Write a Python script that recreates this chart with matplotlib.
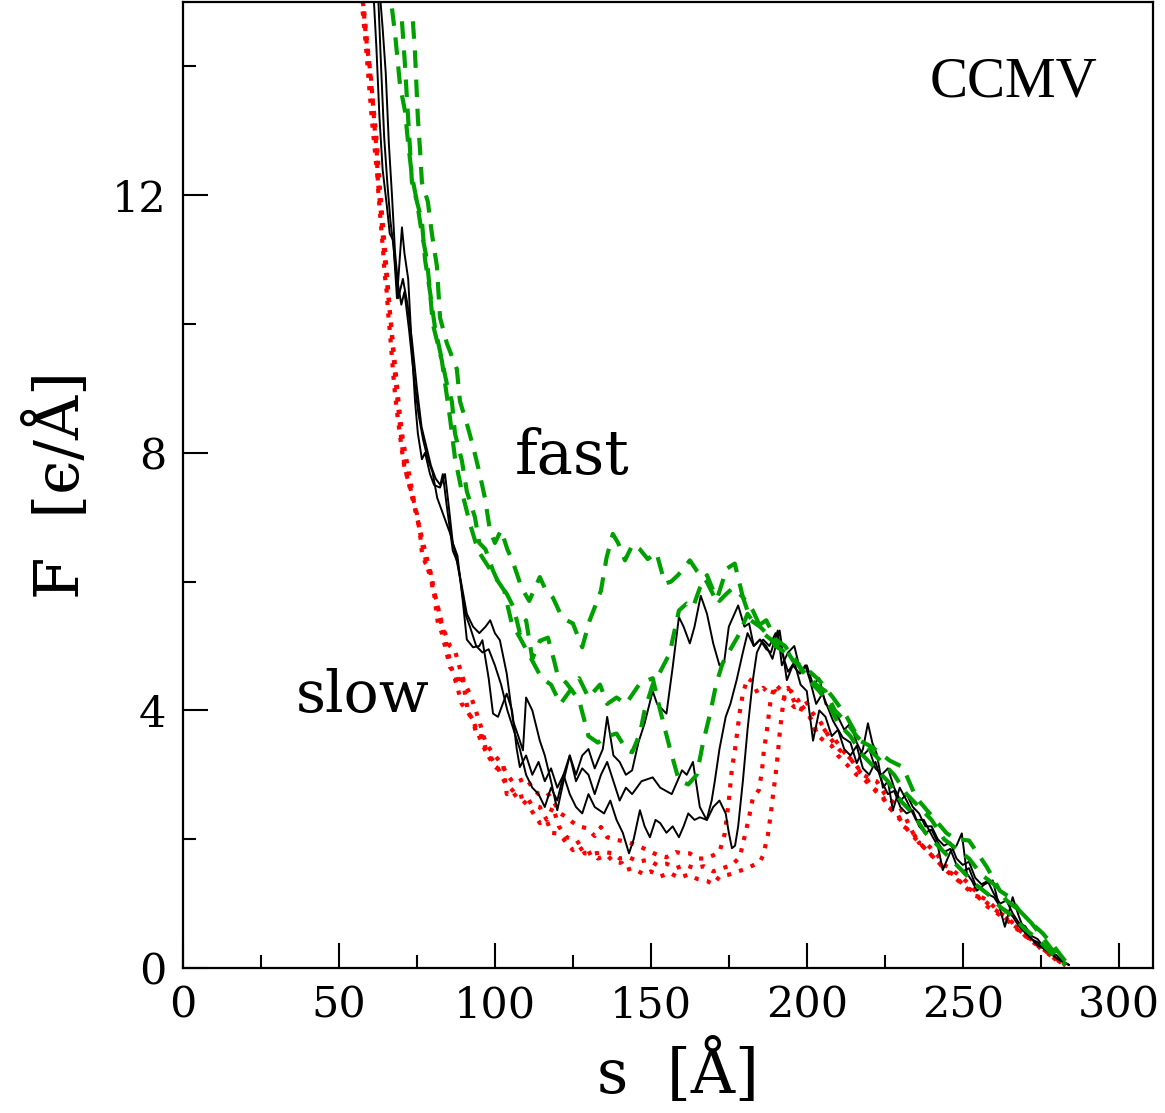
"""CCMV force vs. extension, slow / fast pulling"""
import matplotlib
matplotlib.use('Agg')
import matplotlib.pyplot as plt
from matplotlib.ticker import MultipleLocator

RED = '#ff0000'
GREEN = '#00a000'
SERIF = ['DejaVu Serif', 'DejaVu Sans']

# ---------------- data ----------------
# slow pulling: red dotted
s_red_1 = [57.7, 58.3, 59, 59.6, 60.3, 61, 61.5, 62.1, 62.6, 63.2, 63.7, 64.2, 64.6, 65.3,
           65.8, 66.4, 66.9, 67.4, 68, 68.7, 69.5, 70.2, 71, 72.2, 73.4, 75, 76, 76.6, 77.6,
           79.2, 80.1, 81.4, 82.5, 84, 85.6, 87.2, 88.5, 90.4, 92, 93.5, 95.2, 97, 98.4, 100,
           102, 104, 106, 108, 110, 112, 114, 116.6, 118.6, 121, 123, 125, 127, 129.5, 132,
           134, 136, 138, 140, 143, 145.8, 148, 150, 152.5, 155, 158, 160, 162.5, 165, 167.5,
           170, 172, 173.7, 175, 176, 177, 178.5, 179.5, 181, 182.5, 184.3, 186, 188, 190,
           192, 194, 196, 198, 201, 203, 205, 207, 210.6, 213, 215, 218, 220, 222.4, 225,
           227, 229.8, 232, 234, 236, 238, 240, 242, 244, 246, 248, 250, 252, 254, 256, 258,
           260, 262, 264, 266, 268, 270, 272.4, 275, 278, 281, 283]
f_red_1 = [15.0, 14.65, 14.3, 14.1, 13.8, 13.35, 13.0, 12.7, 12.06, 11.7, 11.4, 11.1, 10.8,
           10.5, 10.15, 9.84, 9.53, 9.22, 8.9, 8.6, 8.3, 8.03, 7.77, 7.57, 7.36, 7.05, 6.74,
           6.45, 6.3, 6.2, 5.86, 5.7, 5.4, 5.2, 5.0, 4.93, 4.7, 4.4, 4.26, 4.05, 3.8, 3.5, 3.4,
           3.3, 3.18, 3.0, 2.87, 2.91, 2.95, 2.8, 2.7, 2.73, 2.6, 2.4, 2.34, 2.26, 2.2, 2.17,
           2.05, 2.19, 2.03, 2.0, 1.98, 1.95, 1.9, 1.85, 1.8, 1.75, 1.72, 1.8, 1.78, 1.78, 1.7,
           1.7, 1.75, 1.8, 2.09, 2.6, 3.1, 3.4, 3.97, 4.26, 4.5, 4.45, 4.26, 4.35, 4.26, 4.3,
           4.2, 4.15, 4.05, 4.1, 3.9, 3.7, 3.75, 3.6, 3.38, 3.3, 3.2, 3.0, 2.95, 2.9, 2.7, 2.6,
           2.5, 2.3, 2.1, 1.94, 1.95, 1.85, 1.75, 1.6, 1.55, 1.47, 1.4, 1.3, 1.2, 1.1, 1.05,
           0.95, 0.85, 0.8, 0.7, 0.6, 0.5, 0.43, 0.3, 0.2, 0.1, 0.03]

s_red_2 = [57, 58, 59, 60, 61, 62, 63, 64, 65, 66, 67, 68, 69, 70, 71, 72.5, 74, 75.5, 77,
           78.5, 80, 81.7, 83.3, 84.6, 86, 87.8, 89.4, 91, 93, 95.8, 97.4, 99, 101, 103, 105.8,
           107.5, 110, 111.8, 114.4, 116.6, 118.6, 120.5, 123, 126.3, 128.8, 132, 135.3, 137.8,
           140, 143, 146, 149, 152, 155, 158, 161, 164, 167, 170, 173, 176, 178.5, 180, 181.4,
           182.7, 184.6, 185.6, 186.2, 187.2, 188.5, 190, 192, 194, 196.8, 199, 201, 203,
           206, 208, 210, 213, 216, 218, 221, 224, 226, 229, 231, 234, 236, 239, 242, 245,
           248, 251, 254, 256, 259, 262, 265, 268, 271, 274, 277, 280, 283]
f_red_2 = [15.3, 14.9, 14.4, 13.9, 13.4, 12.9, 12.2, 11.6, 11.0, 10.4, 9.8, 9.2, 8.7, 8.2,
           7.8, 7.5, 7.2, 6.9, 6.5, 6.2, 5.95, 5.6, 5.3, 5.0, 4.67, 4.39, 4.1, 4.0, 3.84, 3.49,
           3.33, 3.25, 3.1, 2.9, 2.75, 2.65, 2.68, 2.53, 2.5, 2.3, 2.5, 2.2, 2.03, 1.98, 1.78,
           1.78, 1.8, 1.78, 1.7, 1.72, 1.65, 1.68, 1.6, 1.62, 1.55, 1.6, 1.55, 1.58, 1.5, 1.55,
           1.6, 1.72, 2.03, 2.32, 2.64, 2.76, 3.05, 3.36, 3.69, 4.2, 4.4, 4.3, 4.35, 4.05, 4.0,
           3.9, 3.64, 3.5, 3.45, 3.3, 3.15, 3.0, 2.95, 2.8, 2.7, 2.5, 2.4, 2.2, 2.1, 1.95,
           1.8, 1.65, 1.5, 1.38, 1.25, 1.12, 1.1, 0.95, 0.85, 0.72, 0.6, 0.45, 0.35, 0.25,
           0.12, 0.04]

s_red_3 = [56.5, 57.5, 58.5, 59.5, 60.5, 61.5, 62.5, 63.5, 64.5, 65.5, 66.5, 67.5, 68.5, 69.5,
           70.5, 72, 73.5, 75, 76.5, 78, 80, 81.7, 83, 85.6, 87, 88.1, 89.4, 91.3, 93, 94.2, 96,
           97.4, 99, 100.6, 102.6, 103.8, 105.5, 107, 109, 111, 114.4, 116.6, 118, 120, 122,
           125, 127, 129, 131, 133, 136, 138, 140.7, 142, 144, 146, 148, 150, 153, 156, 159,
           162, 165, 168, 170, 172, 175, 178, 181, 183, 185, 186, 187.5, 188.4, 189.2, 190,
           190.7, 191.3, 192, 193, 195, 197, 199, 202, 204, 207, 209, 212, 214, 217, 219, 222,
           225, 228, 230, 233, 236, 239, 241, 244, 247, 250, 253, 256, 258, 261, 264, 267,
           270, 273, 276, 279, 282]
f_red_3 = [15.3, 14.9, 14.4, 13.8, 13.2, 12.7, 12.2, 11.7, 11.1, 10.6, 10.1, 9.6, 9.1, 8.6,
           8.2, 7.8, 7.4, 7.0, 6.7, 6.4, 6.0, 5.36, 5.2, 4.67, 4.6, 4.39, 4.57, 4.0, 3.84, 3.6,
           3.6, 3.33, 3.2, 3.1, 3.18, 2.7, 2.75, 2.65, 2.6, 2.5, 2.25, 2.3, 2.1, 2.09, 2.0, 1.83,
           1.9, 1.75, 1.8, 1.7, 1.75, 1.65, 1.63, 1.52, 1.55, 1.5, 1.45, 1.5, 1.42, 1.48, 1.4,
           1.45, 1.38, 1.35, 1.3, 1.42, 1.45, 1.5, 1.55, 1.6, 1.65, 1.75, 2.06, 2.37, 2.7, 3.0,
           3.32, 3.64, 3.95, 4.3, 4.3, 4.15, 4.2, 3.95, 3.85, 3.6, 3.55, 3.35, 3.25, 3.05, 2.95,
           2.75, 2.6, 2.4, 2.3, 2.1, 1.95, 1.8, 1.7, 1.55, 1.45, 1.3, 1.2, 1.05, 0.95, 0.85,
           0.75, 0.62, 0.5, 0.4, 0.28, 0.18, 0.07]

# black solid
s_black_a = [61, 62, 63, 64, 65.3, 66.3, 67.4, 68.6, 70.2, 71, 72.2, 73.4, 74.4, 75.3, 76.6,
             77.6, 79.2, 80.5, 82.4, 84, 85, 86.5, 88, 89.7, 91, 93, 95, 96, 98, 99.4, 101,
             102.5, 103.8, 105.5, 107, 108, 110, 112, 114, 116, 118, 120, 122, 124, 126, 128,
             130, 132, 134, 136, 138, 140, 142, 144, 147, 150.6, 153, 156.7, 158.5, 160,
             161.5, 163.5, 165.7, 167.9, 169.5, 170.5, 172, 174, 175.5, 177.5, 179.5, 181,
             183, 185, 187, 189, 191.3, 193.6, 195.5, 197.8, 199.5, 201, 203, 205, 208.4,
             211.5, 214, 216, 218, 219.6, 221, 222.4, 224.4, 226, 227.6, 229.8, 232, 235,
             237.5, 240.4, 242, 243.6, 246, 248, 249.7, 251.3, 253, 254.5, 257, 259.6, 261.5,
             263.5, 265, 266, 268, 270, 271.5, 274, 276, 278, 280, 282, 284]
f_black_a = [15.2, 14.3, 13.2, 12.4, 11.86, 11.4, 11.3, 10.4, 11.5, 11.1, 10.7, 9.6, 8.8, 8.3,
             7.9, 8.0, 7.67, 7.5, 7.46, 7.67, 7.26, 6.6, 6.4, 5.7, 5.1, 4.98, 5.0, 5.09, 4.5,
             3.95, 3.9, 4.1, 4.26, 4.0, 3.4, 3.12, 3.3, 3.0, 3.2, 2.9, 3.1, 2.8, 3.0, 3.3, 2.9,
             3.1, 3.0, 2.7, 3.0, 3.2, 2.9, 2.6, 2.8, 2.7, 2.9, 2.96, 2.8, 2.7, 2.9, 3.07, 3.0,
             3.2, 2.5, 2.3, 2.6, 2.9, 3.4, 3.9, 4.1, 4.47, 4.9, 5.2, 5.0, 5.1, 5.0, 4.8, 5.24,
             4.47, 4.7, 4.57, 4.7, 4.47, 4.1, 4.26, 3.84, 3.58, 3.5, 3.18, 3.4, 3.8, 3.5, 3.33,
             2.8, 2.9, 2.45, 2.8, 2.6, 2.3, 2.3, 2.03, 1.9, 1.52, 1.8, 1.9, 2.09, 1.47, 1.35,
             1.2, 1.3, 1.36, 1.0, 0.64, 0.9, 1.1, 0.8, 0.55, 0.48, 0.35, 0.3, 0.23, 0.15, 0.1,
             0.05]

s_black_b = [62.5, 63.5, 64.5, 65.5, 66.5, 67.5, 69, 70.5, 72, 73.5, 75, 76.5, 78, 79.5, 81,
             82.5, 83.3, 84.5, 86.5, 88, 89.5, 91, 93, 95, 97, 98.5, 100, 101.6, 103.8, 105.8,
             107.5, 109, 110, 112, 114.4, 116, 118, 120, 122, 124, 126, 128, 130, 132, 134.6,
             136, 138, 140, 142, 144, 146, 148, 150.6, 152, 155, 157, 159, 160.5, 162.5, 164,
             166, 168, 170, 172, 173.5, 175, 178, 180, 181.5, 183, 185, 187, 188.5, 190.7,
             192, 194, 196, 198, 200, 202, 204, 206, 208, 210, 212, 214, 216, 218, 220, 222,
             224, 226, 228, 230, 232, 234, 236, 238, 240, 242, 244, 246, 248, 250, 252, 254,
             256, 258, 260, 262, 264, 266, 268, 270, 272, 274, 276, 278, 280, 282, 284]
f_black_b = [15.2, 14.0, 12.9, 12.2, 11.6, 11.2, 10.4, 10.7, 10.3, 9.7, 9.0, 8.4, 8.1, 7.8,
             7.6, 7.5, 7.67, 7.2, 6.48, 6.3, 5.9, 5.5, 5.3, 5.2, 5.3, 5.4, 5.2, 5.09, 4.57,
             3.84, 3.6, 3.38, 4.2, 4.0, 3.53, 3.3, 2.9, 2.45, 2.9, 3.3, 3.0, 3.3, 3.4, 3.1, 3.4,
             3.9, 3.3, 3.2, 3.0, 3.07, 3.5, 3.8, 4.3, 4.1, 3.95, 4.67, 5.45, 5.3, 5.04, 5.3,
             5.78, 5.5, 5.04, 4.7, 4.75, 5.3, 5.63, 5.3, 5.35, 5.0, 5.1, 4.95, 4.9, 5.24, 4.7,
             4.9, 5.0, 4.6, 4.7, 4.4, 4.5, 4.1, 4.0, 3.9, 3.7, 3.8, 3.5, 3.3, 3.4, 3.1, 3.0,
             3.1, 2.8, 2.6, 2.7, 2.5, 2.4, 2.2, 2.2, 2.0, 1.9, 1.95, 1.7, 1.6, 1.65, 1.4, 1.3,
             1.35, 1.15, 1.0, 1.05, 0.85, 0.7, 0.65, 0.5, 0.45, 0.32, 0.25, 0.2, 0.1, 0.05]

s_black_c = [63, 64, 65, 66, 67, 68, 69, 70, 71, 72.5, 74, 75.5, 77, 78.5, 80, 81.5, 83, 84.5,
             86, 87.5, 89, 90.5, 92, 94, 96, 98, 100, 102, 104, 106, 108, 110, 112, 114, 116,
             118, 120, 122, 124, 126, 128, 130, 132, 135, 137, 139, 141, 143, 144.5, 146.5,
             148, 149.7, 151.5, 153, 155, 157, 159, 160.5, 162, 164, 165.7, 168, 170, 172,
             174, 175, 176, 177, 178, 179.5, 181, 182.7, 184, 186, 188, 190, 192, 194, 196,
             198, 200, 202, 204, 206, 208, 210, 212, 214, 216, 218, 220, 222, 224, 226, 228,
             230, 232, 234, 236, 238, 240, 242, 244, 246, 248, 250, 252, 254, 256, 258, 260,
             262, 264, 266, 268, 270, 272, 274, 276, 278, 280, 282, 284]
f_black_c = [15.2, 14.6, 13.9, 12.8, 12.0, 11.1, 10.6, 10.3, 10.5, 9.9, 9.2, 8.6, 8.2, 7.9,
             7.7, 7.3, 7.1, 6.9, 6.7, 6.4, 6.0, 5.5, 5.3, 5.0, 4.9, 4.95, 4.7, 4.4, 4.0, 3.7,
             3.4, 3.0, 2.8, 2.7, 2.5, 2.8, 2.6, 3.0, 2.7, 2.5, 2.4, 2.7, 2.5, 2.4, 2.6, 2.3,
             2.1, 1.78, 2.0, 2.45, 2.2, 2.03, 2.3, 2.25, 2.1, 2.2, 2.03, 2.2, 2.4, 2.3, 2.34,
             2.3, 2.5, 2.6, 2.4, 2.1, 1.86, 1.9, 2.2, 2.9, 3.7, 4.47, 4.9, 5.1, 5.0, 5.2, 4.9,
             4.6, 4.75, 4.4, 4.3, 3.53, 4.0, 3.9, 3.6, 3.7, 3.4, 3.3, 3.45, 3.1, 3.0, 3.2, 2.9,
             2.7, 2.75, 2.5, 2.4, 2.45, 2.2, 2.1, 2.15, 1.95, 1.8, 1.85, 1.6, 1.5, 1.55, 1.3,
             1.25, 1.15, 1.1, 0.95, 0.9, 0.8, 0.65, 0.55, 0.45, 0.4, 0.3, 0.25, 0.15, 0.1, 0.05]

# fast pulling: green dashed
s_green_1 = [73.7, 74.4, 75.3, 76, 76.6, 78.5, 79.8, 81.4, 82.4, 84.6, 87.8, 88.8, 91.3, 93,
             95, 96.8, 98.4, 100, 102, 104, 105.8, 108.6, 111, 114.4, 116, 118.6, 121, 123,
             125, 128, 130.4, 132, 134, 135.8, 137.8, 139.5, 141.7, 144.2, 146.5, 149, 151.8,
             154.5, 156.5, 158.7, 160.5, 162.5, 164.7, 167.9, 171, 174.3, 176.9, 179.5, 182.7,
             186, 189, 193.6, 195.6, 198, 201, 204, 208.4, 212.8, 217, 221, 226.6, 230.8, 235,
             239.4, 244.9, 248, 252, 257.7, 261.9, 265, 268, 272, 275.6, 279, 283.3]
f_green_1 = [14.7, 14.2, 13.2, 12.7, 12.2, 11.9, 11.4, 10.9, 10.1, 9.7, 9.3, 8.8, 8.4, 8.1,
             7.7, 7.3, 6.8, 6.6, 6.8, 6.5, 6.3, 5.9, 5.7, 6.07, 5.9, 5.75, 5.5, 5.4, 5.35, 4.98,
             5.4, 5.6, 5.86, 6.37, 6.74, 6.6, 6.33, 6.58, 6.5, 6.35, 6.45, 5.97, 6.0, 6.1, 6.2,
             6.33, 6.17, 6.0, 5.7, 6.2, 6.28, 5.76, 5.55, 5.2, 5.08, 4.93, 4.77, 4.7, 4.6, 4.47,
             4.2, 3.9, 3.53, 3.43, 3.22, 3.12, 2.65, 2.4, 2.09, 2.0, 1.98, 1.57, 1.2, 1.1, 0.9,
             0.7, 0.54, 0.35, 0.08]

s_green_2 = [70.2, 71.2, 71.8, 72.8, 73.4, 76.6, 77.6, 79.2, 80.8, 82.4, 84.6, 86.2, 87.2, 89.4,
             91, 93.6, 95, 97, 99.4, 101, 103.8, 106, 108, 110, 112, 114.4, 117, 119, 120, 123,
             127, 130, 133, 136, 139, 142.3, 144, 146.5, 148, 150.6, 153, 156, 159, 161.5,
             163.5, 165.7, 168, 170, 172, 174, 176.3, 179.5, 182, 185, 187, 190, 193, 196, 200,
             204, 207, 210, 214, 218, 222, 226, 230, 234, 238, 242, 246, 250, 254, 258, 262,
             266, 270, 274, 278, 283]
f_green_2 = [14.7, 14.0, 13.5, 12.7, 12.2, 11.6, 11.0, 10.5, 9.94, 9.58, 9.07, 8.8, 8.3, 7.88,
             7.4, 7.0, 6.6, 6.5, 6.17, 6.0, 5.81, 5.6, 5.2, 5.4, 4.8, 5.08, 5.13, 4.77, 4.57,
             4.42, 4.16, 3.6, 3.5, 3.6, 3.64, 3.38, 3.35, 3.64, 4.0, 4.4, 4.6, 4.88, 5.55, 5.66,
             5.6, 5.9, 6.1, 5.86, 5.7, 5.8, 5.9, 5.76, 5.4, 5.3, 5.2, 5.0, 4.9, 4.8, 4.5, 4.3,
             4.1, 3.8, 3.6, 3.3, 3.1, 2.9, 2.6, 2.4, 2.1, 1.9, 1.7, 1.5, 1.3, 1.15, 0.95, 0.8,
             0.6, 0.45, 0.25, 0.05]

s_green_3 = [67, 68, 69, 69.6, 71.2, 72.2, 73.4, 75, 76.6, 78.2, 79.2, 80.1, 83, 85.6, 87.2,
             89.4, 92, 94.6, 99.4, 103, 104.2, 105.4, 108, 112, 115, 118, 121, 124, 127, 130,
             133.7, 136, 139, 142, 146.5, 150.6, 153, 156, 159, 162, 164.7, 166.7, 169, 171,
             173, 175.3, 178.5, 181, 184, 187, 190, 193, 196, 199, 203, 206, 209, 213, 216, 220,
             224, 228, 232, 236, 240, 244, 248, 252, 256, 260, 264, 268, 272, 276, 280, 283]
f_green_3 = [14.9, 14.5, 14.0, 13.7, 13.3, 12.8, 12.3, 11.9, 11.4, 11.0, 10.5, 10.0, 9.43,
             8.54, 7.92, 7.4, 6.9, 6.48, 6.12, 5.86, 5.6, 5.35, 5.13, 4.77, 4.5, 4.4, 4.1, 4.3,
             4.5, 4.2, 4.4, 4.1, 4.2, 4.1, 4.42, 4.5, 4.0, 3.43, 2.91, 2.85, 3.0, 3.49, 3.95,
             4.42, 4.73, 4.93, 5.2, 5.5, 5.3, 5.4, 5.1, 5.0, 4.8, 4.6, 4.4, 4.3, 4.0, 3.8, 3.6,
             3.4, 3.2, 3.0, 2.7, 2.5, 2.3, 2.0, 1.85, 1.7, 1.45, 1.3, 1.05, 0.9, 0.7, 0.45,
             0.2, 0.05]

red_runs = [(s_red_1, f_red_1), (s_red_2, f_red_2), (s_red_3, f_red_3)]
black_runs = [(s_black_a, f_black_a), (s_black_b, f_black_b), (s_black_c, f_black_c)]
green_runs = [(s_green_1, f_green_1), (s_green_2, f_green_2), (s_green_3, f_green_3)]

# ---------------- figure ----------------
fig = plt.figure(figsize=(11.65, 11.13), dpi=100)
ax = fig.add_axes([183 / 1165, (1113 - 968) / 1113, (1153 - 183) / 1165, 966 / 1113])

for s, f in red_runs:
    ax.plot(s, f, color=RED, lw=3.0, ls=(0, (1, 2.0)), zorder=2)
for s, f in black_runs:
    ax.plot(s, f, color='black', lw=1.4, zorder=3)
for s, f in green_runs:
    ax.plot(s, f, color=GREEN, lw=3.0, ls=(0, (4.2, 2.8)), zorder=4)

ax.set_xlim(0, 311)
ax.set_ylim(0, 15)

ax.xaxis.set_major_locator(MultipleLocator(50))
ax.xaxis.set_minor_locator(MultipleLocator(25))
ax.yaxis.set_major_locator(MultipleLocator(4))
ax.yaxis.set_minor_locator(MultipleLocator(2))
ax.tick_params(which='both', direction='in', top=False, right=False, width=1.5)
ax.tick_params(which='major', length=18, labelsize=31, pad=12)
ax.tick_params(which='minor', length=9.5)
for lab in ax.get_xticklabels() + ax.get_yticklabels():
    lab.set_family(SERIF)
for sp in ax.spines.values():
    sp.set_linewidth(1.6)

ax.set_xlabel('s  [Å]', fontsize=44, family=SERIF, labelpad=9)
ax.xaxis.set_label_coords(0.51, -0.075)
ax.set_ylabel('F  [\u03f5/Å]', fontsize=44, family=SERIF, labelpad=14)

ax.text(239.5, 13.75, 'CCMV', fontsize=41, family=['Liberation Serif', 'DejaVu Serif'],
        va='center', ha='left')
ax.text(106.5, 7.67, 'fast', fontsize=44, family=SERIF, va='baseline', ha='left')
ax.text(36, 3.97, 'slow', fontsize=42, family=SERIF, va='baseline', ha='left')

fig.savefig('out.png', dpi=100, facecolor='white')
